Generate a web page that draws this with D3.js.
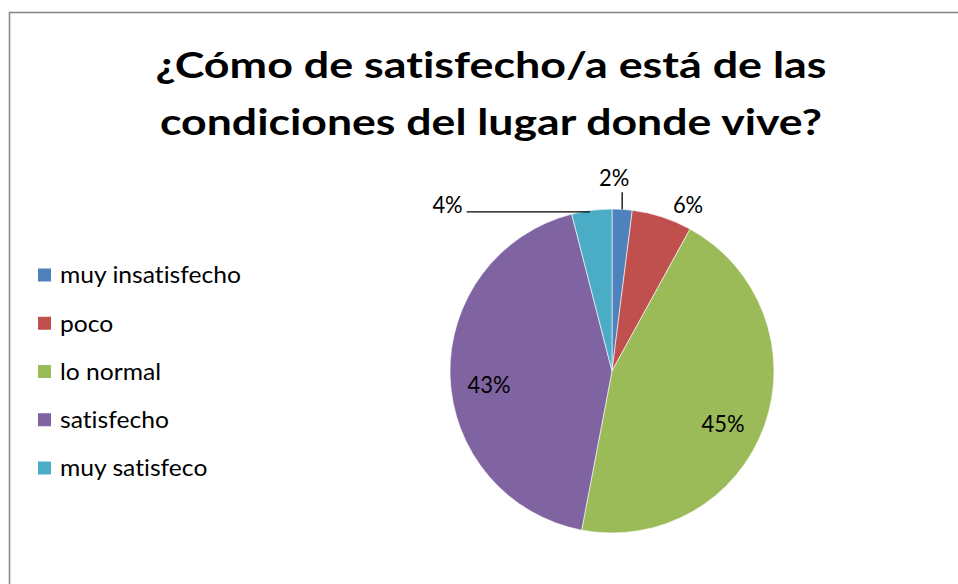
<!DOCTYPE html>
<html>
<head>
<meta charset="utf-8">
<script src="https://cdn.jsdelivr.net/npm/d3@7/dist/d3.min.js"></script>
<style>
  html, body { margin: 0; padding: 0; background: #fff; }
  svg { display: block; }
  text {
    font-family: Lato, "Open Sans", "Liberation Sans", sans-serif; fill: #000;
    font-variant-ligatures: none; font-feature-settings: "liga" 0, "clig" 0;
  }
</style>
</head>
<body>
<svg id="chart" width="958" height="584"></svg>
<script>
// Survey answers and their shares (percent)
const titleLines = ["¿Cómo de satisfecho/a está de las", "condiciones del lugar donde vive?"];
const categories = ["muy insatisfecho", "poco", "lo normal", "satisfecho", "muy satisfeco"];
const shares = [2, 6, 45, 43, 4];
const sliceColors = ["#4F81BD", "#C0504D", "#9BBB59", "#8064A2", "#4BACC6"];

const W = 958, H = 584;
const svg = d3.select("#chart");

svg.append("rect").attr("width", W).attr("height", H).attr("fill", "#fff");

// chart frame (runs past the right and bottom edges)
svg.append("rect")
  .attr("x", 9.5).attr("y", 12.5)
  .attr("width", W + 20).attr("height", H + 20)
  .attr("fill", "none").attr("stroke", "#8a8a8a").attr("stroke-width", 1.6);

// narrow a group of texts by a shared factor, taken from a reference width
function condense(sel, size, refNode, refWidth) {
  sel.attr("font-size", size);
  const factor = refWidth / refNode.getComputedTextLength();
  sel.each(function () {
    const w = this.getComputedTextLength();
    d3.select(this).attr("textLength", w * factor).attr("lengthAdjust", "spacingAndGlyphs");
  });
}

// Title
const titleY = [78, 135];
const titleW = [671, 662];
titleLines.forEach((t, i) => {
  const tx = svg.append("text")
    .attr("x", 491).attr("y", titleY[i])
    .attr("text-anchor", "middle")
    .attr("font-weight", 700)
    .text(t);
  condense(tx, 36, tx.node(), titleW[i]);
});

// Legend
const legendY = d3.scalePoint().domain(categories).range([275, 468]);
const color = d3.scaleOrdinal().domain(categories).range(sliceColors);
const rows = svg.append("g").selectAll("g").data(categories).join("g")
  .attr("transform", d => `translate(0,${legendY(d)})`);
rows.append("rect")
  .attr("x", 38).attr("y", -6.5).attr("width", 13).attr("height", 13)
  .attr("fill", d => color(d));
const legendText = rows.append("text")
  .attr("x", 60).attr("dy", "0.36em")
  .text(d => d);
condense(legendText, 23.5, legendText.node(), 181);

// Pie
const cx = 612, cy = 371, R = 162;
const pie = d3.pie().sort(null).value(d => d.v).startAngle(0).endAngle(2 * Math.PI);
const slices = pie(categories.map((c, i) => ({ c, v: shares[i] })));
const arc = d3.arc().innerRadius(0).outerRadius(R);
const g = svg.append("g").attr("transform", `translate(${cx},${cy})`);
g.selectAll("path").data(slices).join("path")
  .attr("d", arc)
  .attr("fill", d => color(d.data.c))
  .attr("stroke", "#fff").attr("stroke-width", 0.6);

// Data labels
const pt = (angle, r) => [r * Math.sin(angle), -r * Math.cos(angle)];
const mid = d => (d.startAngle + d.endAngle) / 2;
const lbl = g.append("g");

function addLabel(x, y, txt, anchor) {
  lbl.append("text").attr("x", x).attr("y", y).attr("dy", "0.36em")
    .attr("text-anchor", anchor || "middle").text(txt);
}

slices.forEach((d, i) => {
  const txt = d.data.v + "%";
  const a = mid(d);
  if (i === 0) {
    // small slice at the top: vertical leader line
    const [ex, ey] = pt(a, R);
    lbl.append("line").attr("x1", ex).attr("y1", ey).attr("x2", ex).attr("y2", ey - 17)
      .attr("stroke", "#000").attr("stroke-width", 1.3);
    addLabel(ex - 8, ey - 31, txt);
  } else if (i === 4) {
    // small slice at the top left: horizontal leader line
    const [ex, ey] = pt(a, R);
    lbl.append("line").attr("x1", ex - 2).attr("y1", ey + 1.5).attr("x2", ex - 125).attr("y2", ey + 1.5)
      .attr("stroke", "#000").attr("stroke-width", 1.3);
    addLabel(ex - 129, ey - 5, txt, "end");
  } else if (i === 1) {
    const [ex, ey] = pt(a, R);
    addLabel(ex + 26, ey - 12, txt);
  } else {
    const [lx, ly] = pt(a + (i === 2 ? 0.1 : 0), R * 0.76);
    addLabel(lx, ly + (i === 3 ? 10 : 0), txt);
  }
});
const labelText = lbl.selectAll("text");
condense(labelText, 22.5, labelText.filter((d, i) => i === 2).node(), 43);
</script>
</body>
</html>
